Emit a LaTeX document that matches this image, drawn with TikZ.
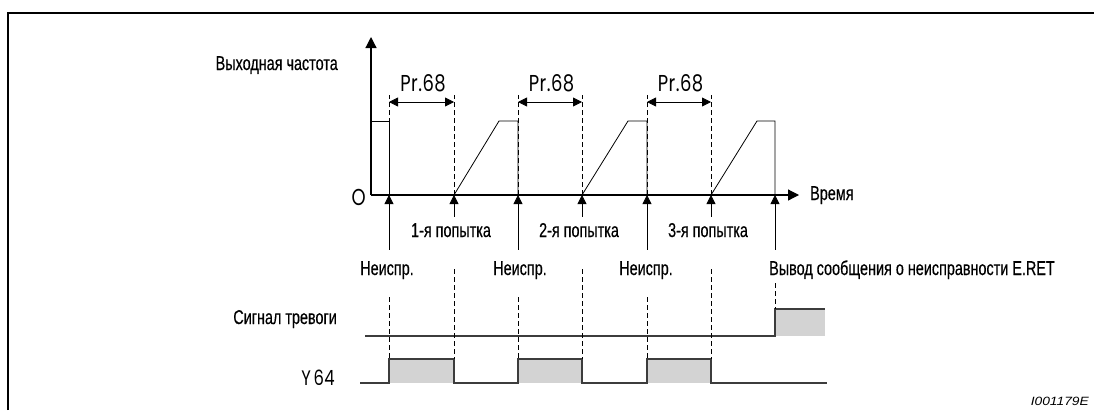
\documentclass[tikz,border=0pt]{standalone}
\usepackage{fontspec}
\setmainfont[FakeStretch=0.72,FakeBold=0.4]{Liberation Sans}
\newfontfamily\geofont[FakeStretch=0.78,LetterSpace=2]{Poppins}
\newfontfamily\codefont[FakeStretch=1.15]{Liberation Sans}
\usetikzlibrary{arrows.meta}
\definecolor{pulsegray}{RGB}{211,211,211}
\definecolor{sigline}{RGB}{60,60,60}

\tikzset{
  lbl/.style={inner sep=0pt, text height=13pt, text depth=4pt, font=\fontsize{20}{22}\selectfont},
  geo/.style={inner sep=0pt, font=\geofont\fontsize{23}{26}\selectfont},
  freqaxis/.style={line width=1.2pt, -{Triangle[length=11pt,width=11pt]}},
  evarrow/.style={line width=0.8pt, -{Triangle[length=9pt,width=9pt]}},
  prspan/.style={line width=0.8pt, {Triangle[length=9pt,width=9pt]}-{Triangle[length=9pt,width=9pt]}},
  guideline/.style={line width=0.7pt, dash pattern=on 5pt off 3pt},
  sigpath/.style={line width=1.2pt, sigline},
}

\begin{document}
\begin{tikzpicture}[x=1pt, y=-1pt]
  \useasboundingbox (0,0) rectangle (1094,410);
  % Frame
  \draw[line width=2pt] (8,410) -- (8,13) -- (1094,13);

  % Axes
  \coordinate (orig) at (371,195);
  \draw[freqaxis] (orig) -- (371,37);
  \draw[freqaxis] (orig) -- (799,195);
  \node[lbl, anchor=base east] (freq) at (338,70) {Выходная частота};
  \node[lbl, anchor=base west] (time) at (810,200) {Время};
  \node[geo, anchor=base east] (zero) at (366,205) {O};

  % Events on the time axis
  \foreach \n/\x in {1/389, 2/454, 3/518, 4/582, 5/647, 6/711, 7/775}
    \coordinate (e\n) at (\x,195);

  % Output frequency
  \draw[line width=0.8pt] (371,121) -- (389,121) -- (e1);
  \foreach \a/\b/\c in {454/499/518, 582/628/647, 711/757/775}
    \draw[line width=0.8pt] (\a,195) -- (\b,121) -- (\c,121) -- (\c,195);

  % Pr.68 spans
  \foreach \a/\b in {1/2, 3/4, 5/6} {
    \draw[guideline] (e\a) -- ++(0,-100);
    \draw[guideline] (e\b) -- ++(0,-100);
    \draw[prspan] ([yshift=93pt]e\a) -- ([yshift=93pt]e\b)
      node[geo, midway, anchor=base, yshift=11pt, xshift=1.5pt] (pr\a) {Pr.68};
  }

  % Faults and restarts
  \node[lbl, anchor=base] (f1) at (387,275) {Неиспр.};
  \node[lbl, anchor=base] (f3) at (520,275) {Неиспр.};
  \node[lbl, anchor=base] (f5) at (646,275) {Неиспр.};
  \node[lbl, anchor=base west] (msg) at (769,275) {Вывод сообщения о неисправности E.RET};
  \node[lbl, anchor=base] (r1) at (451,237) {1-я попытка};
  \node[lbl, anchor=base] (r2) at (579,237) {2-я попытка};
  \node[lbl, anchor=base] (r3) at (708,237) {3-я попытка};
  \draw[evarrow, shorten <=12pt] (e1 |- f1.north) -- (e1);
  \draw[evarrow, shorten <=12pt] (e3 |- f3.north) -- (e3);
  \draw[evarrow, shorten <=12pt] (e5 |- f5.north) -- (e5);
  \draw[evarrow, shorten <=12pt] (e7 |- msg.north) -- (e7);
  \draw[evarrow, shorten <=7pt] (e2 |- r1.north) -- (e2);
  \draw[evarrow, shorten <=7pt] (e4 |- r2.north) -- (e4);
  \draw[evarrow, shorten <=7pt] (e6 |- r3.north) -- (e6);

  % Signals
  \node[lbl, anchor=base east] (alarm) at (337,324) {Сигнал тревоги};
  \node[geo, anchor=base east, font=\geofont\fontsize{21}{24}\selectfont] (y64) at (335,385) {Y\kern-2pt{} 64};
  \fill[pulsegray] (775,309) rectangle (825,336);
  \draw[sigpath] (365,336) -- (775,336) -- (775,309) -- (825,309);
  \foreach \a/\b in {389/454, 518/582, 647/711}
    \fill[pulsegray] (\a,359) rectangle (\b,383);
  \draw[sigpath] (360,383) -- (389,383) -- (389,359) -- (454,359) -- (454,383)
    -- (518,383) -- (518,359) -- (582,359) -- (582,383) -- (647,383)
    -- (647,359) -- (711,359) -- (711,383) -- (827,383);

  % Guide lines down to the signals
  \foreach \x/\top in {389/297, 454/269, 518/297, 582/269, 647/297, 711/269}
    \draw[guideline] (\x,\top) -- (\x,359);
  \draw[guideline] (775,283) -- (775,309);

  \node[anchor=base east, inner sep=0pt, font=\codefont\itshape\fontsize{12}{14}\selectfont] (code) at (1089,405) {I001179E};
\end{tikzpicture}
\end{document}
